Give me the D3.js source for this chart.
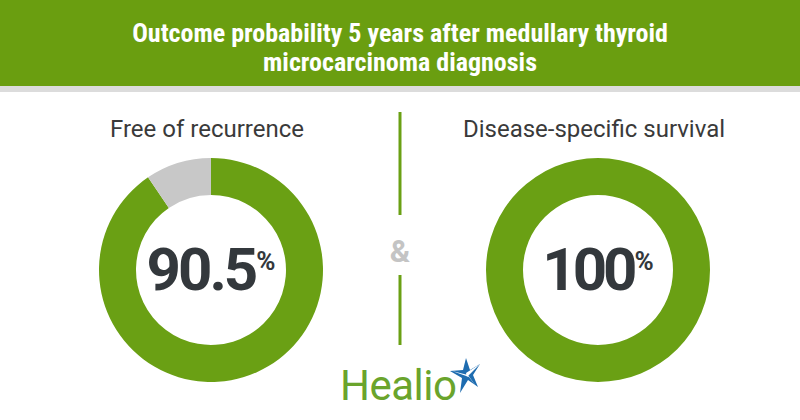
<!DOCTYPE html>
<html lang="en">
  <head>
    <meta charset="UTF-8" />
    <title>Outcome probability 5 years after medullary thyroid microcarcinoma diagnosis</title>
    <script src="https://cdnjs.cloudflare.com/ajax/libs/d3/7.8.5/d3.min.js"></script>
    <style>
      body {
        margin: 0;
        background: #fff;
      }
      svg {
        display: block;
      }
      .title {
        font-family: "Roboto Condensed", "Liberation Sans Narrow", "DejaVu Sans Condensed", sans-serif;
        font-weight: bold;
        fill: #fff;
      }
      .label {
        font-family: Roboto, sans-serif;
        font-size: 24px;
        fill: #3a3a3a;
      }
      .value {
        font-family: Roboto, sans-serif;
        font-weight: bold;
        fill: #33383c;
      }
    </style>
  </head>
  <body>
    <div id="chart"></div>

    <script>
      const width = 800;
      const height = 420;

      // Data
      const titleLines = [
        "Outcome probability 5 years after medullary thyroid",
        "microcarcinoma diagnosis",
      ];
      const outcomes = ["Free of recurrence", "Disease-specific survival"];
      const values = [90.5, 100];
      const valueLabels = ["90.5", "100"];

      const green = "#6aa014";
      const grey = "#c8c8c8";

      const svg = d3
        .select("#chart")
        .append("svg")
        .attr("width", width)
        .attr("height", height);

      // Header band
      svg.append("rect").attr("width", width).attr("height", 86).attr("fill", "#6a9e10");
      svg.append("rect").attr("y", 86).attr("width", width).attr("height", 6).attr("fill", "#dcdcdc");

      svg
        .selectAll(".title")
        .data(titleLines)
        .enter()
        .append("text")
        .attr("class", "title")
        .attr("x", width / 2)
        .attr("y", (d, i) => 42 + i * 29)
        .attr("text-anchor", "middle")
        .attr("font-size", 26)
        .text((d) => d);

      // Donut positions
      const x = d3.scalePoint().domain(outcomes).range([211, 598]);
      const cy = 270;

      const pie = d3.pie().sort(null).value((d) => d);
      const arc = d3.arc().innerRadius(75).outerRadius(112);

      const groups = svg
        .selectAll(".donut")
        .data(outcomes)
        .enter()
        .append("g")
        .attr("class", "donut")
        .attr("transform", (d) => `translate(${x(d)},${cy})`);

      groups
        .selectAll("path")
        .data((d, i) => pie([values[i], 100 - values[i]]))
        .enter()
        .append("path")
        .attr("d", arc)
        .attr("fill", (d, i) => (i === 0 ? green : grey));

      // Labels above
      groups
        .append("text")
        .attr("class", "label")
        .attr("x", -4)
        .attr("y", 137 - cy)
        .attr("text-anchor", "middle")
        .text((d) => d);

      // Centre values
      const val = groups
        .append("text")
        .attr("class", "value")
        .attr("y", 20)
        .attr("text-anchor", "middle")
        .attr("letter-spacing", (d, i) => (i === 0 ? -3 : -4));
      val
        .append("tspan")
        .attr("font-size", 60)
        .text((d, i) => valueLabels[i]);
      val
        .append("tspan")
        .attr("font-size", 26)
        .attr("dy", -20)
        .attr("dx", 1)
        .attr("letter-spacing", 0)
        .text("%");

      // Divider and ampersand
      const midX = width / 2;
      [[112, 215], [275, 345]].forEach(([y1, y2]) => {
        svg
          .append("line")
          .attr("x1", midX)
          .attr("x2", midX)
          .attr("y1", y1)
          .attr("y2", y2)
          .attr("stroke", green)
          .attr("stroke-width", 3);
      });
      svg
        .append("text")
        .attr("x", midX)
        .attr("y", 262)
        .attr("text-anchor", "middle")
        .attr("font-family", "Roboto, sans-serif")
        .attr("font-weight", "bold")
        .attr("font-size", 31)
        .attr("fill", "#c4c4c4")
        .text("&");

      // Healio logo
      svg
        .append("text")
        .attr("x", 340)
        .attr("y", 400)
        .attr("font-family", "Roboto, sans-serif")
        .attr("font-size", 42)
        .attr("fill", "#6aa42c")
        .attr("letter-spacing", -0.5)
        .text("Healio");

      const star = svg.append("g").attr("transform", "translate(466,375)");
      star
        .append("path")
        .attr("d", "M-16,-4 L-3,-5 L0,-17 L4,-5 L14,-11 L7,0 L12,12 L2,5 L-6,18 L-4,3 Z")
        .attr("fill", "#1e6cb0");
      star
        .append("path")
        .attr("d", "M-14,-4 L2,0 L12,14 L3,2 Z M0,-2 L14,-11 L1,2 Z")
        .attr("fill", "#fff");
    </script>
  </body>
</html>
